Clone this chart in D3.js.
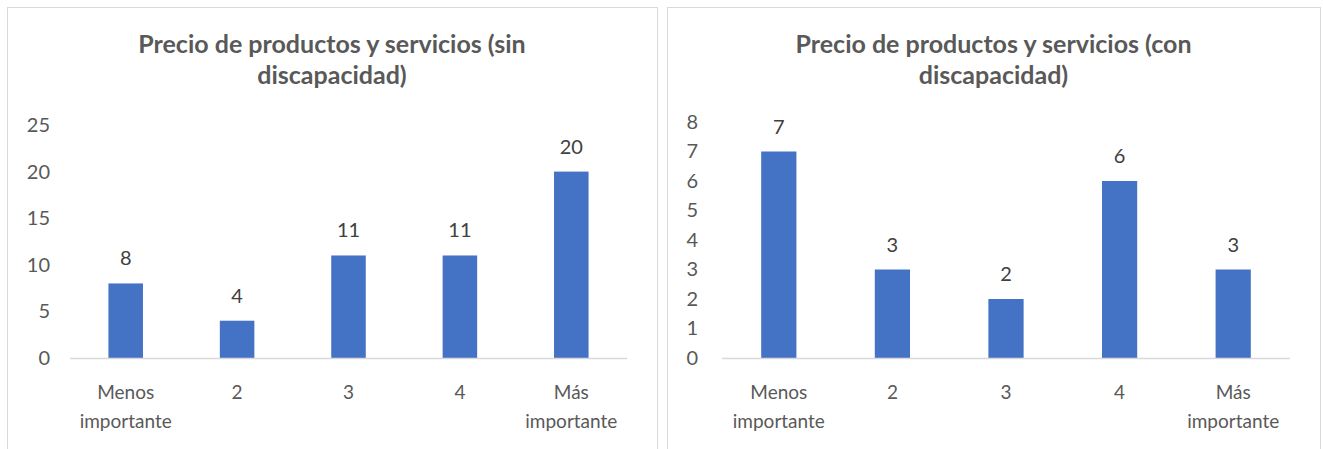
<!DOCTYPE html>
<html>
<head lang="es">
  <meta charset="utf-8">
  <title>Precio de productos y servicios</title>
  <script src="https://d3js.org/d3.v7.min.js" charset="utf-8"></script>
  <style>
    body { margin: 0; background: #fff; }
    text { font-family: Lato, "Liberation Sans", sans-serif; }
  </style>
</head>
<body>
  <script>
    // categories shared by both charts
    var categories = ["Menos importante", "2", "3", "4", "Más importante"];

    // chart 1: sin discapacidad
    var valuesSin = [8, 4, 11, 11, 20];
    var ticksSin = [0, 5, 10, 15, 20, 25];
    var titleSin = ["Precio de productos y servicios (sin", "discapacidad)"];

    // chart 2: con discapacidad
    var valuesCon = [7, 3, 2, 6, 3];
    var ticksCon = [0, 1, 2, 3, 4, 5, 6, 7, 8];
    var titleCon = ["Precio de productos y servicios (con", "discapacidad)"];

    var width = 1323;
    var height = 449;

    var svg = d3.select("body")
      .append("svg")
      .attr("width", width)
      .attr("height", height);

    function drawChart(panel, title, values, ticks) {
      var g = svg.append("g");

      // outer frame
      g.append("rect")
        .attr("x", panel.x + 0.5)
        .attr("y", panel.y + 0.5)
        .attr("width", panel.w)
        .attr("height", panel.h)
        .style("fill", "#fff")
        .style("stroke", "#d9d9d9");

      var cx = panel.x + panel.w / 2;
      g.selectAll(".title")
        .data(title)
        .enter().append("text")
          .attr("class", "title")
          .attr("x", cx)
          .attr("y", function(d, i) { return 53 + i * 31; })
          .attr("text-anchor", "middle")
          .style("font-size", "25px")
          .style("font-weight", "bold")
          .style("fill", "#595959")
          .text(function(d) { return d; });

      var x = d3.scaleBand()
        .domain(categories)
        .range([panel.plotLeft, panel.plotRight])
        .paddingInner(0.69)
        .paddingOuter(0.345);

      var y = d3.scaleLinear()
        .domain([0, d3.max(ticks)])
        .range([358, panel.plotTop]);

      // y axis labels (no line, no ticks)
      var yAxis = d3.axisLeft(y)
        .tickValues(ticks)
        .tickSize(0)
        .tickPadding(0)
        .tickFormat(d3.format("d"));

      var ya = g.append("g")
        .attr("transform", "translate(" + panel.yLabelX + ",0)")
        .call(yAxis);
      ya.select(".domain").remove();
      ya.selectAll("text")
        .style("font-family", "Lato, sans-serif")
        .style("font-size", "20px")
        .style("fill", "#595959");

      // bars
      g.selectAll(".bar")
        .data(values)
        .enter().append("rect")
          .attr("class", "bar")
          .attr("x", function(d, i) { return x(categories[i]); })
          .attr("y", function(d) { return y(d); })
          .attr("width", x.bandwidth())
          .attr("height", function(d) { return y(0) - y(d); })
          .style("fill", "#4472c4");

      // data labels
      g.selectAll(".lbl")
        .data(values)
        .enter().append("text")
          .attr("class", "lbl")
          .attr("x", function(d, i) { return x(categories[i]) + x.bandwidth() / 2; })
          .attr("y", function(d) { return y(d) - 18; })
          .attr("text-anchor", "middle")
          .style("font-size", "20px")
          .style("fill", "#404040")
          .text(function(d) { return d; });

      // x axis line
      g.append("line")
        .attr("x1", panel.plotLeft)
        .attr("x2", panel.plotRight)
        .attr("y1", y(0) + 0.5)
        .attr("y2", y(0) + 0.5)
        .style("stroke", "#d9d9d9")
        .style("stroke-width", 1.3);

      // category labels, wrapped on space for the long ones
      var cat = g.selectAll(".cat")
        .data(categories)
        .enter().append("text")
          .attr("class", "cat")
          .attr("text-anchor", "middle")
          .style("font-size", "19px")
          .style("fill", "#595959");

      cat.each(function(d) {
        var words = d.split(" ");
        var t = d3.select(this);
        var cxCat = x(d) + x.bandwidth() / 2;
        words.forEach(function(w, i) {
          t.append("tspan")
            .attr("x", cxCat)
            .attr("y", 399 + i * 29)
            .text(w);
        });
      });
    }

    drawChart({ x: 7, y: 7, w: 650, h: 460, plotLeft: 70, plotRight: 627, plotTop: 125, yLabelX: 50 },
      titleSin, valuesSin, ticksSin);

    drawChart({ x: 667, y: 7, w: 653, h: 460, plotLeft: 722, plotRight: 1290, plotTop: 122, yLabelX: 698 },
      titleCon, valuesCon, ticksCon);
  </script>
</body>
</html>
